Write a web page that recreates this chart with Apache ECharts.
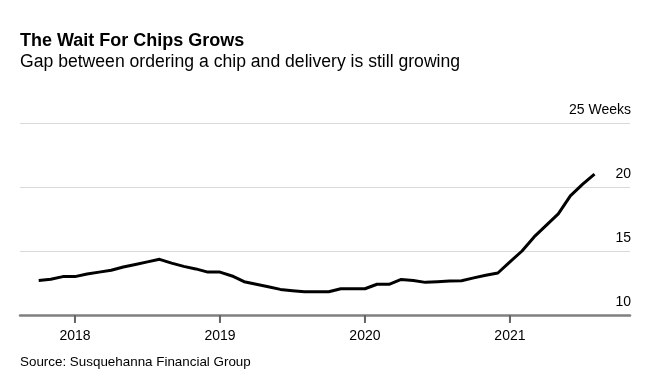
<!DOCTYPE html>
<html>
<head>
<meta charset="utf-8">
<script src="https://cdn.jsdelivr.net/npm/echarts@6/dist/echarts.min.js"></script>
<style>
html,body{margin:0;padding:0;background:#fff;}
#chart{width:660px;height:390px;}
</style>
</head>
<body>
<div id="chart"></div>
<script>
const months = [
  "2017-10","2017-11","2017-12",
  "2018-01","2018-02","2018-03","2018-04","2018-05","2018-06","2018-07","2018-08","2018-09","2018-10","2018-11","2018-12",
  "2019-01","2019-02","2019-03","2019-04","2019-05","2019-06","2019-07","2019-08","2019-09","2019-10","2019-11","2019-12",
  "2020-01","2020-02","2020-03","2020-04","2020-05","2020-06","2020-07","2020-08","2020-09","2020-10","2020-11","2020-12",
  "2021-01","2021-02","2021-03","2021-04","2021-05","2021-06","2021-07","2021-08"
];
const leadTimeWeeks = [
  12.7, 12.8, 13.0,
  13.0, 13.2, 13.35, 13.5, 13.75, 13.95, 14.15, 14.35, 14.05, 13.8, 13.6, 13.35,
  13.35, 13.05, 12.6, 12.4, 12.2, 12.0, 11.9, 11.82, 11.82, 11.82, 12.05, 12.05,
  12.05, 12.4, 12.4, 12.78, 12.7, 12.55, 12.6, 12.65, 12.68, 12.9, 13.1, 13.28,
  14.15, 15.0, 16.1, 17.0, 17.9, 19.3, 20.2, 21.0
];
const yearTicks = [2018, 2019, 2020, 2021];
const Y_MIN = 10;

const FONT = '"Liberation Sans", Arial, sans-serif';
const seriesData = months.map((m, i) => {
  const [y, mo] = m.split('-').map(Number);
  return [y + (mo - 1) / 12, leadTimeWeeks[i]];
});

const chart = echarts.init(document.getElementById('chart'), null, {renderer: 'canvas'});
chart.setOption({
  animation: false,
  backgroundColor: '#fff',
  title: [
    {text: 'The Wait For Chips Grows', left: 20, top: 32, padding: 0,
     textStyle: {fontFamily: FONT, fontWeight: 'bold', fontSize: 18, color: '#000'}},
    {text: 'Gap between ordering a chip and delivery is still growing', left: 20, top: 53, padding: 0,
     textStyle: {fontFamily: FONT, fontWeight: 'normal', fontSize: 17.6, color: '#000'}},
    {text: 'Source: Susquehanna Financial Group', left: 20, top: 356, padding: 0,
     textStyle: {fontFamily: FONT, fontWeight: 'normal', fontSize: 13.4, color: '#000'}}
  ],
  grid: {left: 20, right: 30, top: 123, bottom: 75, containLabel: false},
  xAxis: {
    type: 'value',
    min: 2017.621, max: 2021.828,
    axisLine: {show: true, onZero: false, lineStyle: {color: '#808080', width: 2.5}},
    axisTick: {show: true, length: 6, customValues: yearTicks, lineStyle: {color: '#666', width: 2}},
    axisLabel: {show: true, customValues: yearTicks, margin: 14, formatter: v => String(Math.round(v)),
      fontFamily: FONT, fontSize: 14, color: '#000'},
    splitLine: {show: false}
  },
  yAxis: {
    type: 'value',
    position: 'right',
    min: Y_MIN, max: 25, interval: 5,
    axisLine: {show: false},
    axisTick: {show: false},
    splitLine: {show: true, lineStyle: {color: '#d9d9d9', width: 1}},
    axisLabel: {
      inside: true, margin: -1, align: 'right', verticalAlign: 'bottom', padding: [0, 0, 6, 0],
      fontFamily: FONT, fontSize: 14, color: '#000',
      formatter: v => v === 25 ? '25 Weeks' : String(v)
    }
  },
  series: [{
    type: 'line',
    data: seriesData,
    showSymbol: false,
    lineStyle: {color: '#000', width: 3, join: 'round'},
    itemStyle: {color: '#000'},
    z: 3
  }, {
    type: 'scatter',
    data: yearTicks.map(v => [v, Y_MIN]),
    clip: false,
    silent: true,
    symbol: 'rect',
    symbolSize: [2, 8],
    symbolOffset: [0, 4],
    itemStyle: {color: '#666', opacity: 1},
    z: 10
  }]
});
</script>
</body>
</html>
